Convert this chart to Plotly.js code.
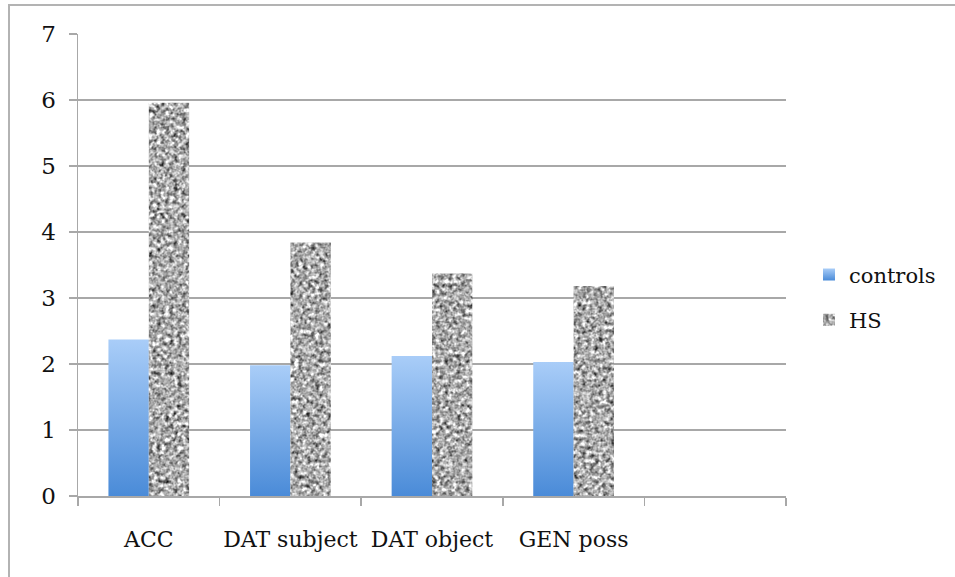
<!DOCTYPE html>
<html>
<head>
<meta charset="utf-8">
<script src="https://cdn.plot.ly/plotly-3.0.1.min.js"></script>
<style>
  html, body { margin: 0; padding: 0; background: #fff; }
  #frame { position: absolute; left: 8px; top: 4px; width: 947px; height: 573px;
           border-left: 2px solid #b3b3b3; border-top: 2px solid #b3b3b3; box-sizing: border-box; }
  #chart { width: 945px; height: 571px; }
</style>
</head>
<body>
<div id="frame"><div id="chart"></div></div>
<script>
// ---- data ----
const categories = ['ACC', 'DAT subject', 'DAT object', 'GEN poss'];
const extraCategory = ' ';
const controls = [2.37, 1.98, 2.12, 2.03];
const hs = [5.96, 3.84, 3.37, 3.18];
const seriesNames = ['controls', 'HS'];
const yTicks = [0, 1, 2, 3, 4, 5, 6, 7];

const FONT = 'DejaVu Serif, Liberation Serif, serif';
const GRID = '#a8a8a8';

const data = [
  { type: 'bar', name: seriesNames[0], x: categories, y: controls,
    marker: { color: '#74a7e6' }, legendgroup: 'a' },
  { type: 'bar', name: seriesNames[1], x: categories, y: hs,
    marker: { color: '#9a9a9a' }, legendgroup: 'b' }
];

const layout = {
  width: 945, height: 571,
  margin: { l: 68, r: 169, t: 28, b: 81 },
  paper_bgcolor: '#fff', plot_bgcolor: '#fff',
  font: { family: FONT, size: 22, color: '#111' },
  barmode: 'group', bargap: 0.43, bargroupgap: 0,
  showlegend: true,
  legend: { xref: 'container', x: 0.8455, xanchor: 'left', y: 0.43, yanchor: 'middle',
            traceorder: 'grouped', tracegroupgap: 15,
            font: { family: FONT, size: 21, color: '#111' }, itemwidth: 30 },
  xaxis: {
    type: 'category', categoryorder: 'array',
    categoryarray: categories.concat([extraCategory]),
    range: [-0.5, 4.5],
    showline: true, linecolor: GRID, linewidth: 1.5,
    ticks: 'outside', tickson: 'boundaries', ticklen: 8, tickcolor: GRID, tickwidth: 1.5,
    ticklabelstandoff: 23, tickangle: 0,
    tickfont: { family: FONT, size: 22, color: '#111' },
    showgrid: false, zeroline: false, fixedrange: true, automargin: false
  },
  yaxis: {
    range: [0, 7], tickvals: yTicks,
    showline: true, linecolor: GRID, linewidth: 1.5,
    ticks: 'outside', ticklen: 8, tickcolor: GRID, tickwidth: 1.5,
    ticklabelstandoff: 8,
    tickfont: { family: FONT, size: 23, color: '#111' },
    showgrid: true, gridcolor: GRID, gridwidth: 1.5,
    zeroline: false, fixedrange: true, automargin: false
  }
};

const gd = document.getElementById('chart');
Plotly.newPlot(gd, data, layout, { staticPlot: true, displayModeBar: false }).then(() => {
  const NS = 'http://www.w3.org/2000/svg';
  const svg = gd.querySelector('svg.main-svg');
  let defs = svg.querySelector('defs');
  if (!defs) { defs = document.createElementNS(NS, 'defs'); svg.insertBefore(defs, svg.firstChild); }
  const mk = (tag, attrs, parent) => {
    const el = document.createElementNS(NS, tag);
    for (const k in attrs) el.setAttribute(k, attrs[k]);
    if (parent) parent.appendChild(el);
    return el;
  };
  // blue gradient
  const lg = mk('linearGradient', { id: 'ctrlGrad', x1: 0, y1: 0, x2: 0, y2: 1 }, defs);
  mk('stop', { offset: '0%', 'stop-color': '#a9cdf8' }, lg);
  mk('stop', { offset: '100%', 'stop-color': '#4a8bd8' }, lg);
  // noise texture
  const f = mk('filter', { id: 'noiseTex', x: '0', y: '0', width: '100%', height: '100%',
                           'color-interpolation-filters': 'sRGB' }, defs);
  mk('feTurbulence', { type: 'fractalNoise', baseFrequency: '0.24', numOctaves: '2', seed: '7', result: 't' }, f);
  mk('feColorMatrix', { in: 't', type: 'matrix',
    values: '0.33 0.33 0.33 0 0  0.33 0.33 0.33 0 0  0.33 0.33 0.33 0 0  0 0 0 0 1', result: 'g' }, f);
  const ct = mk('feComponentTransfer', { in: 'g', result: 'c' }, f);
  ['feFuncR', 'feFuncG', 'feFuncB'].forEach(n => mk(n, { type: 'linear', slope: '2.4', intercept: '-0.52' }, ct));
  mk('feGaussianBlur', { in: 'c', stdDeviation: '0.6', result: 'b' }, f);
  mk('feComposite', { in: 'b', in2: 'SourceGraphic', operator: 'in' }, f);

  const traces = gd.querySelectorAll('.barlayer .trace');
  if (traces[0]) traces[0].querySelectorAll('path').forEach(p => { p.style.fill = 'url(#ctrlGrad)'; });
  if (traces[1]) traces[1].querySelectorAll('path').forEach(p => { p.setAttribute('filter', 'url(#noiseTex)'); });
  const lt = gd.querySelectorAll('.legend .traces');
  if (lt[0]) lt[0].querySelectorAll('.legendpoints path').forEach(p => { p.style.fill = 'url(#ctrlGrad)'; });
  if (lt[1]) lt[1].querySelectorAll('.legendpoints path').forEach(p => { p.setAttribute('filter', 'url(#noiseTex)'); });
});
</script>
</body>
</html>
